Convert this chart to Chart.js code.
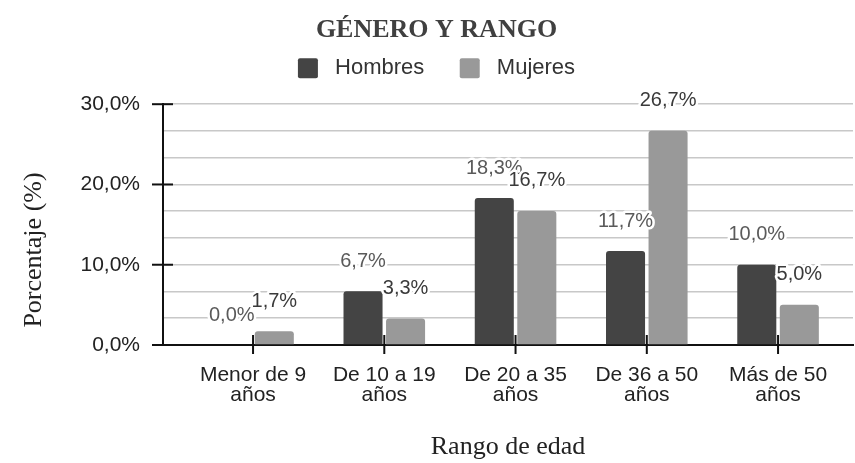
<!DOCTYPE html>
<html>
<head>
<meta charset="utf-8">
<script src="https://cdn.jsdelivr.net/npm/chart.js@4.4.1/dist/chart.umd.min.js"></script>
<style>
  html, body { margin: 0; padding: 0; background: #fff; }
</style>
</head>
<body>
<canvas id="rangoChart" width="855" height="463"></canvas>
<script>
// Datos
const categorias = [
    ["Menor de 9", "años"],
    ["De 10 a 19", "años"],
    ["De 20 a 35", "años"],
    ["De 36 a 50", "años"],
    ["Más de 50", "años"]
];
const hombres = [0.0, 6.7, 18.3, 11.7, 10.0];
const mujeres = [1.7, 3.3, 16.7, 26.7, 5.0];
const marcasY = [0, 10, 20, 30];

const fmt = v => v.toFixed(1).replace(".", ",") + "%";
const coloresEtiqueta = ["#5a5a5a", "#3a3a3a"];

// Etiquetas de valor sobre cada barra
const etiquetas = {
    id: "etiquetas",
    afterDatasetsDraw(chart) {
        const ctx = chart.ctx;
        ctx.save();
        ctx.font = '20px "Liberation Sans"';
        ctx.textAlign = "center";
        ctx.textBaseline = "middle";
        ctx.lineJoin = "round";
        chart.data.datasets.forEach((ds, di) => {
            chart.getDatasetMeta(di).data.forEach((bar, i) => {
                const txt = fmt(ds.data[i]);
                ctx.lineWidth = 5;
                ctx.strokeStyle = "#fff";
                ctx.strokeText(txt, bar.x, bar.y - 30);
                ctx.fillStyle = coloresEtiqueta[di];
                ctx.fillText(txt, bar.x, bar.y - 30);
            });
        });
        ctx.restore();
    }
};

// Marcas de los ejes y título del eje Y
const extrasEjes = {
    id: "extrasEjes",
    beforeInit(chart) {
        const fit = chart.legend.fit;
        chart.legend.fit = function () {
            fit.call(this);
            this.height += 15;
        };
    },
    afterDraw(chart) {
        const { ctx, chartArea, scales: { x, y } } = chart;
        ctx.save();
        ctx.strokeStyle = "#111";
        ctx.lineWidth = 2;
        marcasY.forEach(v => {
            const py = y.getPixelForValue(v);
            ctx.beginPath();
            ctx.moveTo(chartArea.left - 11, py);
            ctx.lineTo(chartArea.left + 10, py);
            ctx.stroke();
        });
        x.ticks.forEach((t, i) => {
            const px = x.getPixelForTick(i);
            ctx.beginPath();
            ctx.moveTo(px, chartArea.bottom - 10);
            ctx.lineTo(px, chartArea.bottom + 9);
            ctx.stroke();
        });
        ctx.translate(34, 250);
        ctx.rotate(-Math.PI / 2);
        ctx.font = '26px "Liberation Serif"';
        ctx.fillStyle = "#222";
        ctx.textAlign = "center";
        ctx.textBaseline = "middle";
        ctx.fillText("Porcentaje (%)", 0, 0);
        ctx.restore();
    }
};

new Chart(document.getElementById("rangoChart"), {
    type: "bar",
    data: {
        labels: categorias,
        datasets: [{
            label: "Hombres",
            data: hombres,
            backgroundColor: "#444444",
            borderRadius: 3
        }, {
            label: "Mujeres",
            data: mujeres,
            backgroundColor: "#999999",
            borderRadius: 3
        }]
    },
    options: {
        responsive: false,
        animation: false,
        categoryPercentage: 0.648,
        barPercentage: 0.918,
        layout: { padding: { left: 20, right: 2, top: 0, bottom: 0 } },
        plugins: {
            tooltip: { enabled: false },
            title: {
                display: true,
                text: "GÉNERO Y RANGO",
                color: "#404040",
                font: { family: "Liberation Serif", size: 26, weight: "bold" },
                padding: { top: 15, bottom: 0 }
            },
            legend: {
                labels: {
                    color: "#333",
                    font: { family: "Liberation Sans", size: 22 },
                    boxWidth: 20,
                    boxHeight: 20,
                    padding: 11,
                    useBorderRadius: true,
                    borderRadius: 2,
                    generateLabels(chart) {
                        const items = Chart.defaults.plugins.legend.labels.generateLabels(chart);
                        items.forEach((it, i) => {
                            it.text = " " + it.text + (i === 0 ? "    " : "");
                        });
                        return items;
                    }
                }
            }
        },
        scales: {
            x: {
                afterBuildTicks(s) {
                    s._startValue = -0.686;
                    s._valueRange = 5.257;
                },
                afterFit(s) { s.height = 118; },
                border: { color: "#111", width: 2 },
                grid: { display: false, drawTicks: false },
                ticks: {
                    padding: 20,
                    maxRotation: 0,
                    minRotation: 0,
                    autoSkip: false,
                    color: "#222",
                    font: { family: "Liberation Sans", size: 21, lineHeight: 0.95 }
                },
                title: {
                    display: true,
                    text: "Rango de edad",
                    color: "#222",
                    font: { family: "Liberation Serif", size: 26 },
                    padding: 0
                }
            },
            y: {
                min: 0,
                max: 30,
                afterFit(s) { s.width = 143; },
                border: { color: "#111", width: 2 },
                grid: {
                    color: c => (c.tick && c.tick.value === 0 ? "rgba(0,0,0,0)" : "#c8c8c8"),
                    lineWidth: 1.5,
                    drawTicks: false
                },
                ticks: {
                    count: 10,
                    autoSkip: false,
                    padding: 23,
                    color: "#222",
                    font: { family: "Liberation Sans", size: 21 },
                    callback: v => (marcasY.some(m => Math.abs(m - v) < 0.01) ? fmt(v) : "")
                }
            }
        }
    },
    plugins: [etiquetas, extrasEjes]
});
</script>
</body>
</html>
